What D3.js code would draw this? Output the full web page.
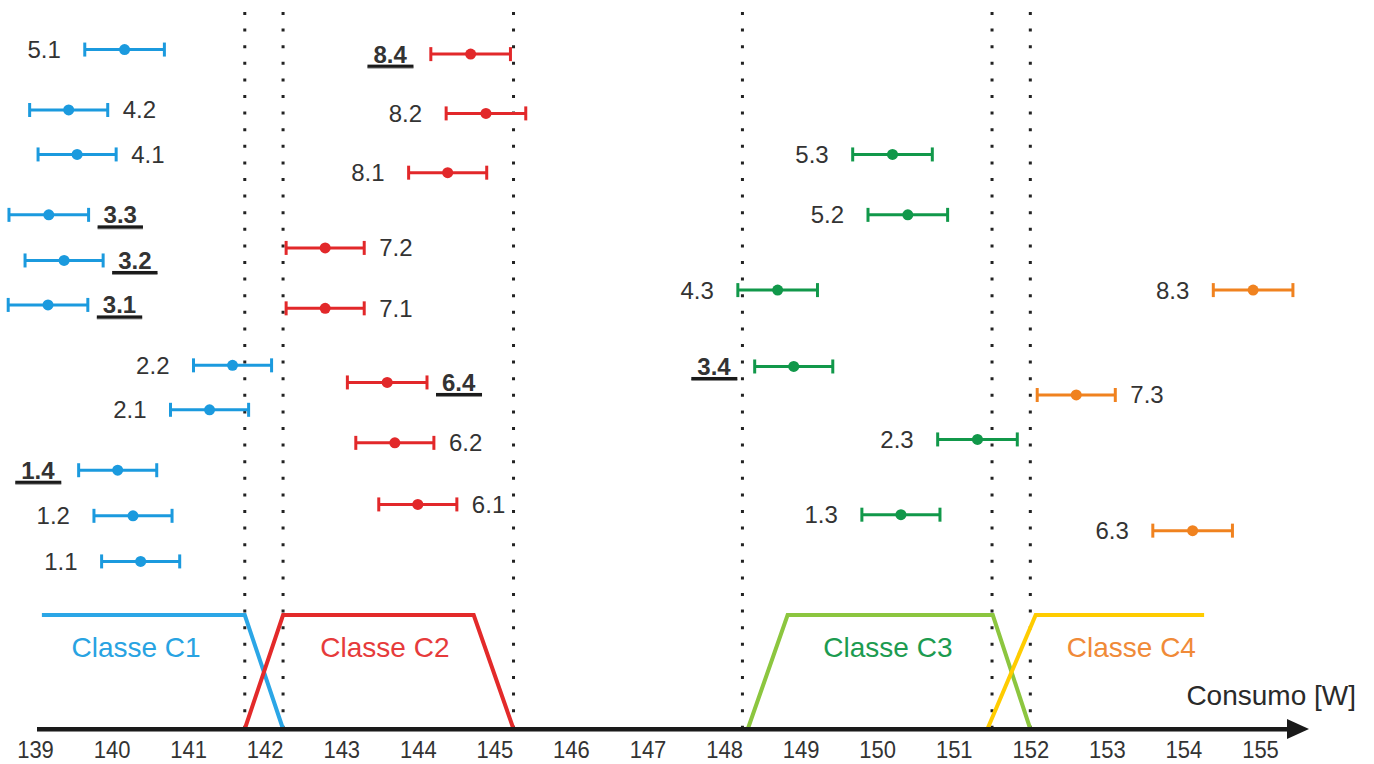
<!DOCTYPE html>
<html>
<head>
<meta charset="utf-8">
<script src="https://cdn.jsdelivr.net/npm/d3@7"></script>
<style>
  html, body { margin: 0; padding: 0; background: #fff; }
  svg { display: block; font-family: "Liberation Sans", Arial, sans-serif; }
</style>
</head>
<body>
<svg id="chart" width="1374" height="764"></svg>
<script>
// ---------- data ----------
const xTicks = [139,140,141,142,143,144,145,146,147,148,149,150,151,152,153,154,155];
const axisTitle = "Consumo [W]";

// error-bar measurements
const pointLabels = ["5.1","4.2","4.1","3.3","3.2","3.1","2.2","2.1","1.4","1.2","1.1",
                     "8.4","8.2","8.1","7.2","7.1","6.4","6.2","6.1",
                     "5.3","5.2","4.3","3.4","2.3","1.3",
                     "8.3","7.3","6.3"];
const pointCenters = [140.17,139.44,139.55,139.18,139.38,139.17,141.58,141.28,140.08,140.28,140.38,
                      144.69,144.89,144.39,142.79,142.79,143.60,143.70,144.00,
                      150.20,150.40,148.70,148.91,151.31,150.31,
                      154.91,152.60,154.12];
const pointErrors = [0.52,0.51,0.51,0.52,0.51,0.52,0.51,0.51,0.51,0.51,0.51,
                     0.52,0.52,0.51,0.51,0.51,0.52,0.51,0.51,
                     0.52,0.52,0.52,0.51,0.52,0.51,
                     0.52,0.51,0.52];
const pointLevels = [5.96,5.43,5.04,4.51,4.11,3.72,3.19,2.80,2.27,1.87,1.47,
                     5.92,5.40,4.88,4.22,3.69,3.04,2.51,1.97,
                     5.04,4.51,3.85,3.18,2.54,1.88,
                     3.85,2.93,1.74];
const pointClass = [0,0,0,0,0,0,0,0,0,0,0,
                    1,1,1,1,1,1,1,1,
                    2,2,2,2,2,2,
                    3,3,3];
const labelSide = ["L","R","R","R","R","R","L","L","L","L","L",
                   "L","L","L","R","R","R","R","R",
                   "L","L","L","L","L","L",
                   "L","R","L"];
const emphasized = ["3.3","3.2","3.1","1.4","8.4","6.4","3.4"];

// membership classes (trapezoids)
const classNames = ["Classe C1","Classe C2","Classe C3","Classe C4"];
const classShapes = [
  [[139.09,1],[141.74,1],[142.24,0]],
  [[141.74,0],[142.24,1],[144.73,1],[145.25,0]],
  [[148.31,0],[148.83,1],[151.51,1],[152.00,0]],
  [[151.44,0],[152.07,1],[154.27,1]]
];
const classLabelX = [140.32,143.57,150.14,153.32];
const classLabelLevel = 0.63;
const dividers = [141.74,142.24,145.25,148.24,151.50,152.00];

// ---------- styles ----------
const barColors   = ["#1b9ade","#e2282a","#11984a","#f0821f"];
const shapeColors = ["#2ba6e6","#e32a2a","#8cc63f","#ffcc00"];
const textColors  = ["#28a3e2","#e63b3b","#1c9b50","#f08a38"];

// ---------- scales ----------
const svg = d3.select("#chart");
const x = d3.scaleLinear().domain([139,155]).range([35,1260]);
const y = d3.scaleLinear().domain([0,1]).range([729,615]);
const axisY = y(0);

// dotted divider lines
svg.append("g").selectAll("line").data(dividers).join("line")
  .attr("x1", d => x(d)).attr("x2", d => x(d))
  .attr("y1", 12).attr("y2", axisY)
  .attr("stroke", "#222").attr("stroke-width", 3)
  .attr("stroke-dasharray", "3,13.6");

// trapezoids
const line = d3.line().x(d => x(d[0])).y(d => y(d[1]));
svg.append("g").selectAll("path").data(classShapes).join("path")
  .attr("d", line)
  .attr("fill", "none")
  .attr("stroke", (d,i) => shapeColors[i])
  .attr("stroke-width", 4)
  .attr("stroke-linejoin", "miter");

// class labels
svg.append("g").selectAll("text").data(classNames).join("text")
  .attr("x", (d,i) => x(classLabelX[i]))
  .attr("y", y(classLabelLevel))
  .attr("text-anchor", "middle")
  .attr("font-size", 28)
  .attr("fill", (d,i) => textColors[i])
  .text(d => d);

// x axis
svg.append("line")
  .attr("x1", 37).attr("x2", 1292).attr("y1", axisY + 1.5).attr("y2", axisY + 1.5)
  .attr("stroke", "#888").attr("stroke-width", 3);
svg.append("line")
  .attr("x1", 37).attr("x2", 1292).attr("y1", axisY).attr("y2", axisY)
  .attr("stroke", "#1a1a1a").attr("stroke-width", 4);
svg.append("path")
  .attr("d", `M1287,${axisY-10} L1309,${axisY} L1287,${axisY+10} Z`)
  .attr("fill", "#1a1a1a");

const axis = d3.axisBottom(x).tickValues(xTicks).tickSize(0).tickFormat(d3.format("d"));
const gAxis = svg.append("g").attr("transform", `translate(0,${axisY})`).call(axis);
gAxis.select(".domain").remove();
gAxis.selectAll("text")
  .attr("y", 0).attr("dy", null)
  .attr("transform", "translate(0,29) scale(1,1.1)")
  .attr("font-size", 22)
  .attr("font-family", "Liberation Sans, Arial, sans-serif")
  .attr("fill", "#333");

svg.append("text")
  .attr("x", 1356).attr("y", 705)
  .attr("text-anchor", "end")
  .attr("font-size", 28)
  .attr("fill", "#2a2a2a")
  .text(axisTitle);

// error bars
const pts = pointLabels.map((lab,i) => ({
  lab, c: pointCenters[i], e: pointErrors[i], lv: pointLevels[i],
  k: pointClass[i], side: labelSide[i], bold: emphasized.includes(lab)
}));

const gp = svg.append("g").selectAll("g").data(pts).join("g");
gp.append("line")
  .attr("x1", d => x(d.c - d.e)).attr("x2", d => x(d.c + d.e))
  .attr("y1", d => y(d.lv)).attr("y2", d => y(d.lv))
  .attr("stroke", d => barColors[d.k]).attr("stroke-width", 3);
gp.append("line")
  .attr("x1", d => x(d.c - d.e)).attr("x2", d => x(d.c - d.e))
  .attr("y1", d => y(d.lv) - 7).attr("y2", d => y(d.lv) + 7)
  .attr("stroke", d => barColors[d.k]).attr("stroke-width", 3);
gp.append("line")
  .attr("x1", d => x(d.c + d.e)).attr("x2", d => x(d.c + d.e))
  .attr("y1", d => y(d.lv) - 7).attr("y2", d => y(d.lv) + 7)
  .attr("stroke", d => barColors[d.k]).attr("stroke-width", 3);
gp.append("circle")
  .attr("cx", d => x(d.c)).attr("cy", d => y(d.lv)).attr("r", 5.5)
  .attr("fill", d => barColors[d.k]);

const txt = gp.append("text")
  .attr("x", d => d.side === "L" ? x(d.c - d.e) - 24 : x(d.c + d.e) + 15)
  .attr("y", d => y(d.lv) + 8.5)
  .attr("text-anchor", d => d.side === "L" ? "end" : "start")
  .attr("font-size", 24)
  .attr("font-weight", d => d.bold ? "bold" : "normal")
  .attr("fill", "#333")
  .text(d => d.lab);

// underlines for emphasized labels
txt.each(function(d) {
  if (!d.bold) return;
  const bb = this.getBBox();
  const g = d3.select(this.parentNode);
  const by = y(d.lv) + 8.5;
  g.append("rect").attr("x", bb.x - 6).attr("width", bb.width + 12)
    .attr("y", by + 4).attr("height", 2).attr("fill", "#888");
  g.append("rect").attr("x", bb.x - 6).attr("width", bb.width + 12)
    .attr("y", by + 2).attr("height", 3).attr("fill", "#1a1a1a");
});
</script>
</body>
</html>
